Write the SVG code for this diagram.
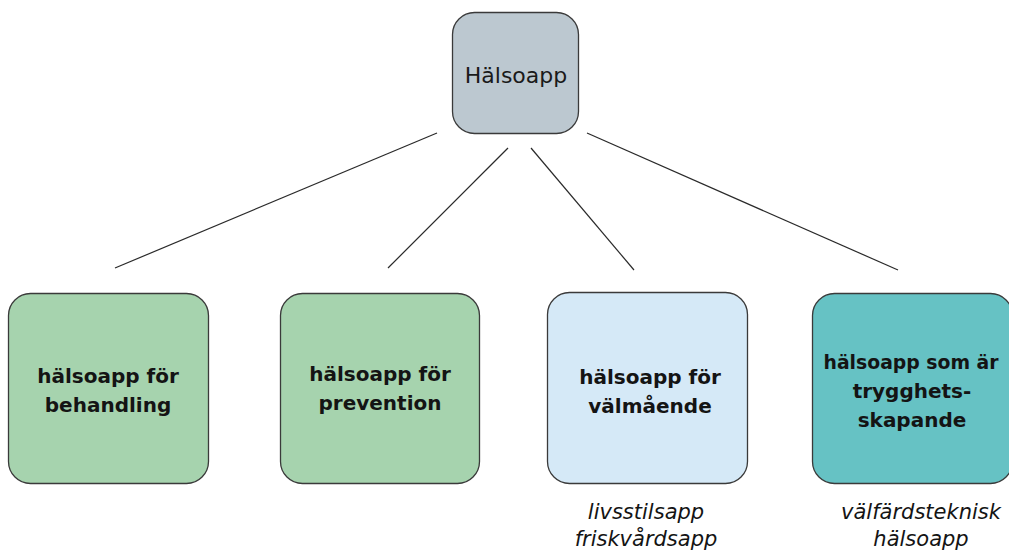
<svg xmlns="http://www.w3.org/2000/svg" width="1009" height="553" viewBox="0 0 1009 553">
  <style>
    .box { stroke: #3a3a3a; stroke-width: 1.3; }
    .lbl { font-family: "DejaVu Sans", "Liberation Sans", sans-serif; font-weight: bold; font-size: 20px; fill: #141414; text-anchor: middle; }
    .root { font-family: "DejaVu Sans", "Liberation Sans", sans-serif; font-size: 22px; fill: #1a1a1a; text-anchor: middle; }
    .note { font-family: "DejaVu Sans", "Liberation Sans", sans-serif; font-style: italic; font-size: 21px; fill: #141414; text-anchor: middle; }
    .conn { stroke: #2a2a2a; stroke-width: 1.2; fill: none; }
  </style>

  <g id="connectors">
    <line class="conn" x1="437" y1="133" x2="115" y2="268"/>
    <line class="conn" x1="508" y1="148" x2="388" y2="268"/>
    <line class="conn" x1="531" y1="148" x2="634" y2="270"/>
    <line class="conn" x1="587" y1="133" x2="898" y2="270"/>
  </g>

  <g id="root">
    <rect class="box" x="452.5" y="12.5" width="126" height="121" rx="22" fill="#BCC8D0"/>
    <text class="root" x="516" y="83">Hälsoapp</text>
  </g>

  <g id="behandling">
    <rect class="box" x="8.5" y="293.5" width="200" height="190" rx="22" fill="#A6D3AE"/>
    <text class="lbl" x="108" y="383">hälsoapp för</text>
    <text class="lbl" x="108" y="412">behandling</text>
  </g>

  <g id="prevention">
    <rect class="box" x="280.5" y="293.5" width="199" height="190" rx="22" fill="#A6D3AE"/>
    <text class="lbl" x="380" y="381">hälsoapp för</text>
    <text class="lbl" x="380" y="410">prevention</text>
  </g>

  <g id="valmaende">
    <rect class="box" x="547.5" y="292.5" width="200" height="191" rx="22" fill="#D5E9F7"/>
    <text class="lbl" x="650" y="384">hälsoapp för</text>
    <text class="lbl" x="650" y="413">välmående</text>
    <text class="note" x="646" y="519">livsstilsapp</text>
    <text class="note" x="646" y="546">friskvårdsapp</text>
  </g>

  <g id="trygghet">
    <rect class="box" x="812.5" y="293.5" width="200" height="190" rx="22" fill="#66C2C4"/>
    <text class="lbl" x="911" y="369" textLength="175" lengthAdjust="spacingAndGlyphs">hälsoapp som är</text>
    <text class="lbl" x="912" y="398">trygghets-</text>
    <text class="lbl" x="912" y="427">skapande</text>
    <text class="note" x="921" y="519">välfärdsteknisk</text>
    <text class="note" x="921" y="546">hälsoapp</text>
  </g>
</svg>
